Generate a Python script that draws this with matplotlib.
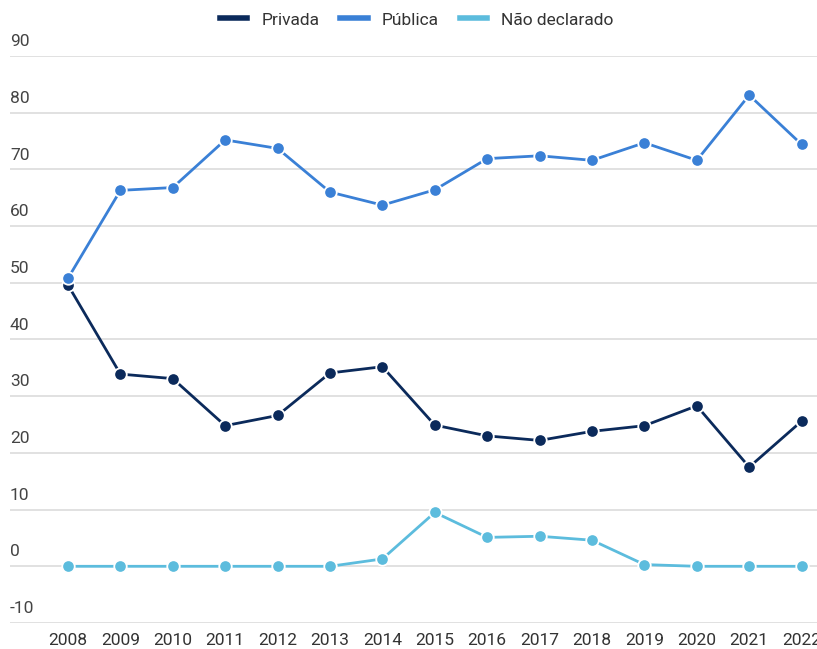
import numpy as np
import matplotlib.pyplot as plt

plt.rcParams['font.family'] = ['Roboto', 'DejaVu Sans']

# Anos e percentuais por categoria
anos = [2008, 2009, 2010, 2011, 2012, 2013, 2014, 2015, 2016, 2017, 2018, 2019, 2020, 2021, 2022]
privada = [49.6, 33.9, 33.1, 24.8, 26.6, 34.1, 35.2, 24.9, 23.0, 22.2, 23.8, 24.8, 28.3, 17.5, 25.6]
publica = [50.8, 66.3, 66.8, 75.2, 73.7, 66.0, 63.7, 66.4, 71.9, 72.4, 71.6, 74.7, 71.6, 83.1, 74.4]
nao_declarado = [0.0, 0.0, 0.0, 0.0, 0.0, 0.0, 1.3, 9.5, 5.1, 5.3, 4.6, 0.3, 0.0, 0.0, 0.0]

series = [
    ("Privada", privada, "#0b2a5b"),
    ("Pública", publica, "#3a80d6"),
    ("Não declarado", nao_declarado, "#5cbcdd"),
]
yticks = list(range(-10, 100, 10))

fig = plt.figure(figsize=(8.17, 6.49), dpi=100)
ax = fig.add_axes([10 / 817, 1 - 623 / 649, 1 - 10 / 817, (623 - 56) / 649])

for nome, valores, cor in series:
    ax.plot(anos, valores, color=cor, lw=2.0, marker="o", markersize=9,
            markerfacecolor=cor, markeredgecolor="white", markeredgewidth=1.3,
            label=nome, zorder=3)

# passo de ~52.4 px por ano, 2008 a 58 px da borda do eixo
ax.set_xlim(2008 - 58 / 52.4, 2008 + 749 / 52.4)
ax.set_ylim(-10, 90)
ax.set_xticks(anos)
ax.set_xticklabels([str(a) for a in anos], fontsize=12.5, color="#333333")
ax.tick_params(axis="x", length=0, pad=7)
ax.set_yticks(yticks)
ax.set_yticklabels([])
ax.tick_params(axis="y", length=0)
ax.grid(axis="y", color="#dcdcdc", lw=1.2)
ax.grid(axis="x", visible=False)
for s in ax.spines.values():
    s.set_visible(False)

# rótulos do eixo y acima de cada linha de grade
trans = ax.get_yaxis_transform()
for v in yticks:
    ax.text(0.0, v + 1.2, str(v), transform=trans, fontsize=12.5, color="#444444",
            ha="left", va="bottom")

leg = fig.legend(handles=[l for l in ax.get_lines()],
                 labels=[s[0] for s in series],
                 loc="upper center", bbox_to_anchor=(0.51, 1.005), ncol=3,
                 frameon=False, fontsize=12.5, handlelength=1.6, handletextpad=0.8,
                 columnspacing=1.2, labelcolor="#333333")
for h in leg.legend_handles:
    h.set_marker("")
    h.set_linewidth(4)

fig.savefig("out.png", dpi=100)
